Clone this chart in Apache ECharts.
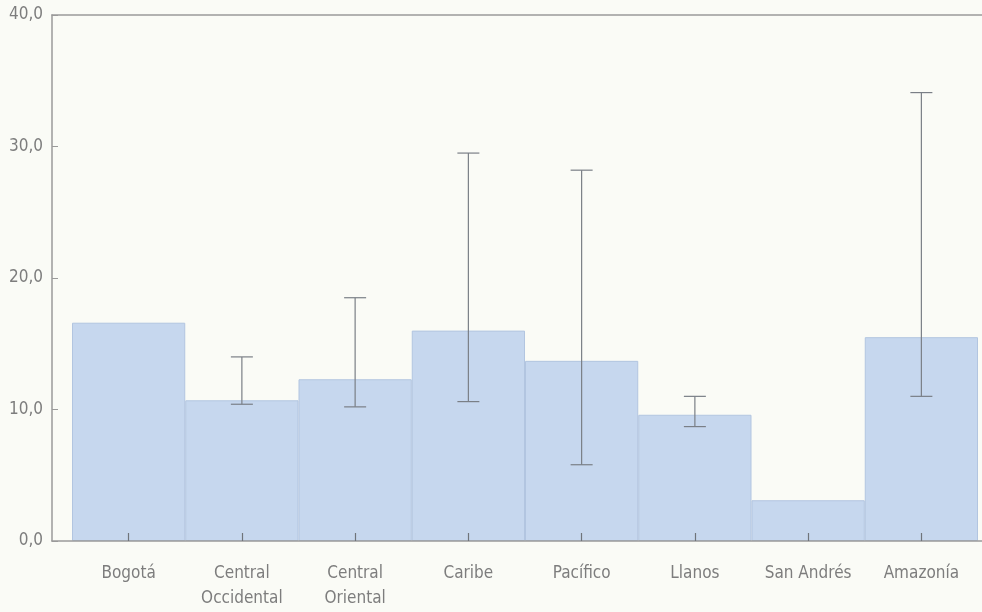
<!DOCTYPE html>
<html>
<head>
<meta charset="utf-8">
<script src="https://cdn.jsdelivr.net/npm/echarts@6/dist/echarts.min.js"></script>
<style>
  html, body { margin: 0; padding: 0; background: #fafbf6; }
  #chart { width: 982px; height: 612px; }
</style>
</head>
<body>
<div id="chart"></div>
<script>
const categories = ['Bogotá', 'Central\nOccidental', 'Central\nOriental', 'Caribe', 'Pacífico', 'Llanos', 'San Andrés', 'Amazonía']
const values = [16.6, 10.7, 12.3, 16.0, 13.7, 9.6, 3.1, 15.5]
const errLow = [null, 10.4, 10.2, 10.6, 5.8, 8.7, null, 11.0]
const errHigh = [null, 14.0, 18.5, 29.5, 28.2, 11.0, null, 34.1]
const yTicks = [0, 10, 20, 30, 40]

const font = '"Liberation Sans Narrow", "DejaVu Sans Condensed", "Roboto", sans-serif'
const textColor = '#7d7d7d'
const axisColor = '#9a9a9a'

const errData = categories
  .map((_, i) => [i, errLow[i], errHigh[i]])
  .filter((d) => d[1] != null)

function renderError(params, api) {
  const x = api.value(0)
  const lo = api.coord([x, api.value(1)])
  const hi = api.coord([x, api.value(2)])
  const half = 11
  const style = { stroke: '#7a7f86', lineWidth: 1.2 }
  return {
    type: 'group',
    children: [
      { type: 'line', shape: { x1: lo[0], y1: lo[1], x2: hi[0], y2: hi[1] }, style },
      { type: 'line', shape: { x1: lo[0] - half, y1: lo[1], x2: lo[0] + half, y2: lo[1] }, style },
      { type: 'line', shape: { x1: hi[0] - half, y1: hi[1], x2: hi[0] + half, y2: hi[1] }, style },
    ],
  }
}

const chart = echarts.init(document.getElementById('chart'), null, { renderer: 'canvas' })
chart.setOption({
  animation: false,
  backgroundColor: '#fafbf6',
  textStyle: { fontFamily: font },
  grid: [
    { left: 52, right: 0, top: 15, bottom: 71 },
    { left: 72, right: 4, top: 15, bottom: 71 },
  ],
  xAxis: [
    {
      gridIndex: 0, type: 'value', min: 0, max: 1, z: 10,
      axisLine: { show: true, lineStyle: { color: axisColor, width: 1.5 } },
      axisTick: { show: false }, axisLabel: { show: false }, splitLine: { show: false },
    },
    {
      gridIndex: 0, type: 'value', position: 'top', min: 0, max: 1, z: 10,
      axisLine: { show: true, lineStyle: { color: axisColor, width: 1.5 } },
      axisTick: { show: false }, axisLabel: { show: false }, splitLine: { show: false },
    },
    {
      gridIndex: 1, type: 'category', data: categories, z: 10,
      axisLine: { show: false },
      axisTick: { show: true, inside: true, length: 8, alignWithLabel: true, lineStyle: { color: '#6f747a', width: 1.2 } },
      axisLabel: {
        color: textColor, fontSize: 17, fontFamily: font, margin: 20, lineHeight: 25,
        interval: 0, hideOverlap: false,
      },
    },
  ],
  yAxis: [
    {
      gridIndex: 0, type: 'value', min: 0, max: 40, interval: 10, z: 10,
      axisLine: { show: true, lineStyle: { color: axisColor, width: 1.5 } },
      axisTick: { show: true, inside: true, length: 6, lineStyle: { color: axisColor } },
      axisLabel: {
        color: textColor, fontSize: 17, fontFamily: font, margin: 9,
        formatter: (v) => (yTicks.includes(v) ? v.toFixed(1).replace('.', ',') : ''),
      },
      splitLine: { show: false },
    },
    { gridIndex: 1, type: 'value', min: 0, max: 40, show: false },
  ],
  series: [
    {
      type: 'bar',
      xAxisIndex: 2,
      yAxisIndex: 1,
      barCategoryGap: 0,
      data: values,
      itemStyle: { color: '#c6d7ee', borderColor: '#b2c5e0', borderWidth: 1 },
    },
    {
      type: 'custom',
      xAxisIndex: 2,
      yAxisIndex: 1,
      z: 5,
      data: errData,
      renderItem: renderError,
    },
  ],
})
</script>
</body>
</html>
